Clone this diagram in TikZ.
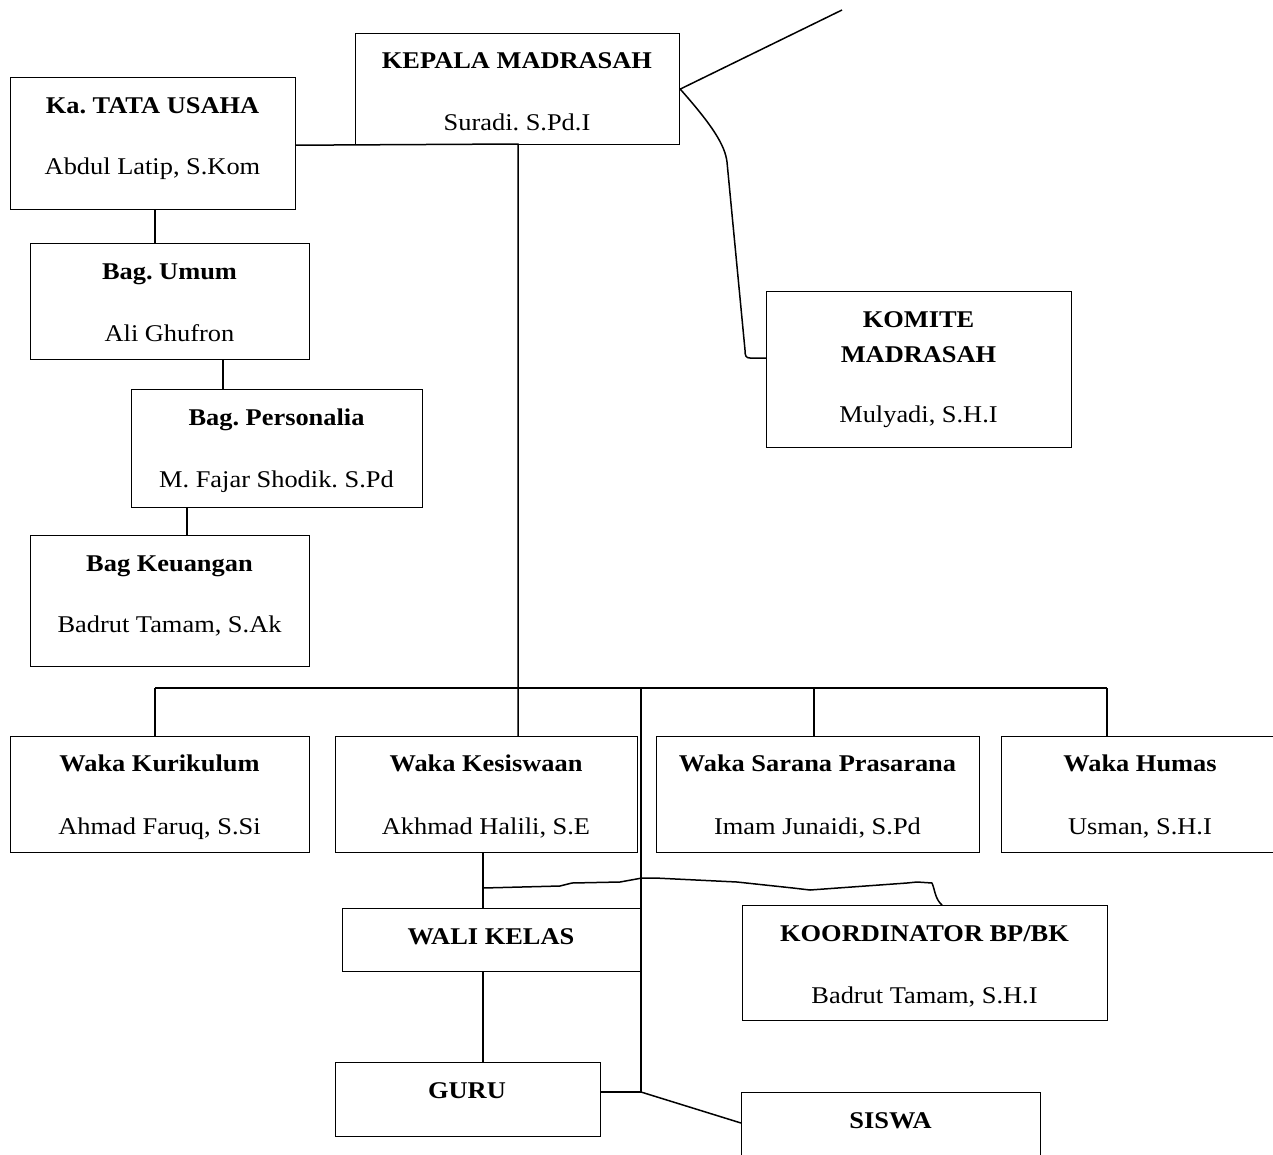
\documentclass[tikz,border=0pt]{standalone}
\usepackage{fontspec}
\setmainfont[FakeStretch=1.1]{Liberation Serif}
\tikzset{
  orgbox/.style={draw, line width=1.2pt, inner sep=0pt, anchor=north west},
  bt/.style={font=\fontsize{24}{28}\selectfont\bfseries, anchor=base, inner sep=0pt},
  nt/.style={font=\fontsize{24}{28}\selectfont, anchor=base, inner sep=0pt},
  ln/.style={line width=1.5pt, line join=round}
}
\newcommand{\obox}[5]{\node[orgbox, minimum width=#4-#2, minimum height=#5-#3] (#1) at (#2,#3) {};}
\frenchspacing
\begin{document}
\begin{tikzpicture}[x=1pt, y=-1pt]
\fill[white] (0,0) rectangle (1273,1154);
\useasboundingbox (0,0) rectangle (1273,1154);
\clip (0,0) rectangle (1273,1154);
% boxes
\obox{kepala}{355}{33}{679}{144}
\obox{katu}{10}{77}{295}{209}
\obox{umum}{30}{243}{309}{359}
\obox{personalia}{131}{389}{422}{507}
\obox{keuangan}{30}{535}{309}{666}
\obox{komite}{766}{291}{1071}{447}
\obox{kurikulum}{10}{736}{309}{852}
\obox{kesiswaan}{335}{736}{637}{852}
\obox{sarana}{656}{736}{979}{852}
\obox{humas}{1001}{736}{1290}{852}
\obox{wali}{342}{908}{640}{971}
\obox{bpbk}{742}{905}{1107}{1020}
\obox{guru}{335}{1062}{600}{1136}
\obox{siswa}{741}{1092}{1040}{1175}
% texts
\node[bt] (kepalaA) at (517,68) {KEPALA MADRASAH};
\node[nt] (kepalaB) at (517,130) {Suradi. S.Pd.I};
\node[bt] (katuA) at (152.5,113) {Ka. TATA USAHA};
\node[nt] (katuB) at (152.5,174) {Abdul Latip, S.Kom};
\node[bt] (umumA) at (169.5,279) {Bag. Umum};
\node[nt] (umumB) at (169.5,341) {Ali Ghufron};
\node[bt] (persA) at (276.5,425) {Bag. Personalia};
\node[nt] (persB) at (276.5,487) {M. Fajar Shodik. S.Pd};
\node[bt] (keuA) at (169.5,571) {Bag Keuangan};
\node[nt] (keuB) at (169.5,632) {Badrut Tamam, S.Ak};
\node[bt] (komA) at (918.5,327) {KOMITE};
\node[bt] (komB) at (918.5,362) {MADRASAH};
\node[nt] (komC) at (918.5,422) {Mulyadi, S.H.I};
\node[bt] (kurA) at (159.5,771) {Waka Kurikulum};
\node[nt] (kurB) at (159.5,834) {Ahmad Faruq, S.Si};
\node[bt] (kesA) at (486,771) {Waka Kesiswaan};
\node[nt] (kesB) at (486,834) {Akhmad Halili, S.E};
\node[bt] (sarA) at (817.5,771) {Waka Sarana Prasarana};
\node[nt] (sarB) at (817.5,834) {Imam Junaidi, S.Pd};
\node[bt] (humA) at (1140,771) {Waka Humas};
\node[nt] (humB) at (1140,834) {Usman, S.H.I};
\node[bt] (waliA) at (491,944) {WALI KELAS};
\node[bt] (bpA) at (924.5,941) {KOORDINATOR BP/BK};
\node[nt] (bpB) at (924.5,1003) {Badrut Tamam, S.H.I};
\node[bt] (guruA) at (467,1098) {GURU};
\node[bt] (siswaA) at (890.5,1128) {SISWA};
% coordinates
\coordinate (top) at (842,10);
\coordinate (bus) at (518,688);
\coordinate (busL) at (155,688);
\coordinate (busR) at (1107,688);
\coordinate (busS) at (814,688);
\coordinate (busG) at (641,688);
\coordinate (jg) at (641,1092);
% connectors
\draw[ln] (katu.east |- kepala.south) -- (518,144) -- (bus) -- (518,736);
\draw[ln] (busL) -- (busR);
\draw[ln] (busL) -- (busL |- kurikulum.north);
\draw[ln] (busS) -- (busS |- sarana.north);
\draw[ln] (busR) -- (busR |- humas.north);
\draw[ln] (busG) -- (jg) -- (guru.east |- jg);
\draw[ln] (jg) -- (741,1123);
\draw[ln] (155,209) -- (155,243);
\draw[ln] (223,359) -- (223,389);
\draw[ln] (187,507) -- (187,535);
\draw[ln] (kepala.east) -- (top);
\draw[ln] (kepala.east) .. controls (712,125) and (725,145) .. (727,162)
  -- (745,350) .. controls (745,356) and (746,358) .. (750,358) -- (766,358);
\draw[ln] (483,852) -- (483,908);
\draw[ln] (483,971) -- (483,1062);
\draw[ln] (483,888) -- (560,886) -- (572,883) -- (620,882) -- (642,878) -- (655,878)
  -- (737,882) -- (793,888) -- (810,890) -- (907,883) -- (917,882) -- (932,883)
  .. controls (935,890) and (935,899) .. (942,905);
\end{tikzpicture}
\end{document}
